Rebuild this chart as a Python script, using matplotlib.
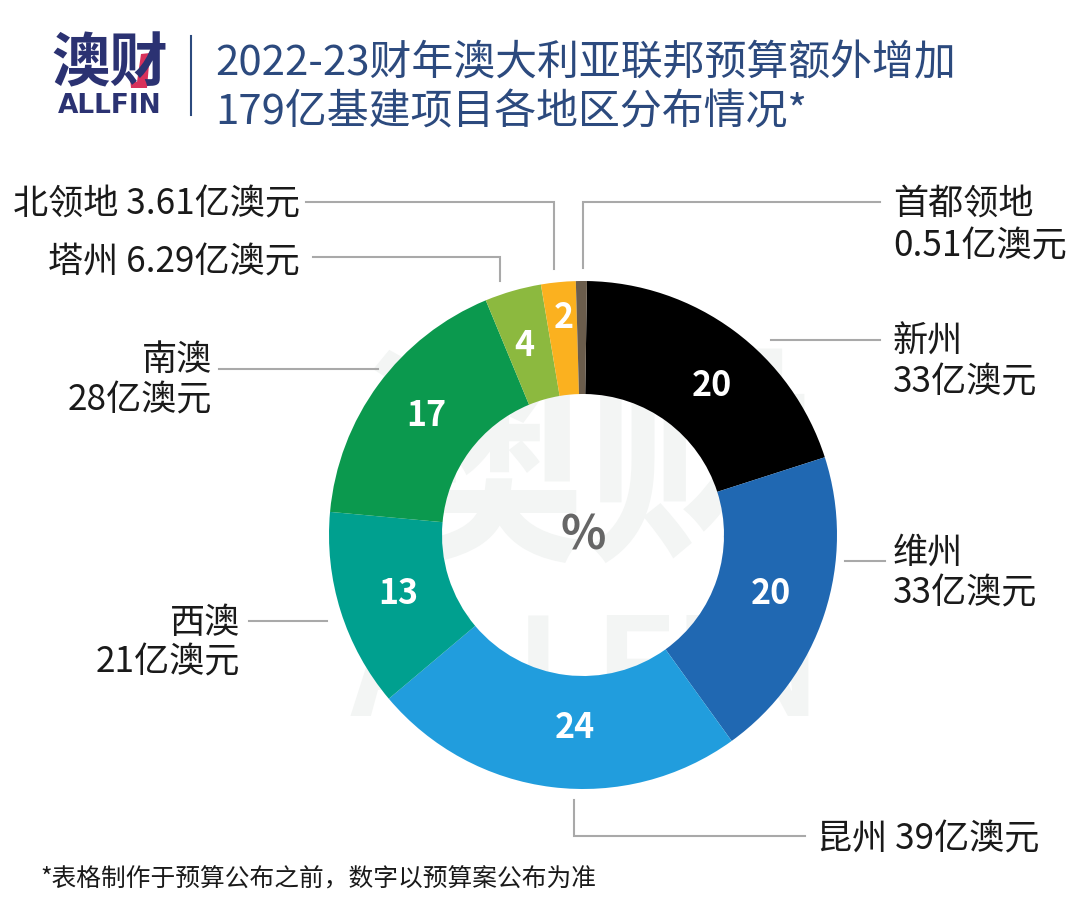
#!/usr/bin/env python3
import matplotlib
matplotlib.use("Agg")
import matplotlib.pyplot as plt
from matplotlib.patches import Polygon

plt.rcParams["font.family"] = ["Noto Sans CJK SC", "DejaVu Sans"]

W, H = 1080, 916

# share of the ring (%), clockwise from the top
regions = ["新州", "维州", "昆州", "西澳", "南澳", "塔州", "北领地", "首都领地"]
shares = [19.8, 20.0, 23.8, 12.6, 17.3, 3.6, 2.2, 0.7]
pct_labels = ["20", "20", "24", "13", "17", "4", "2", ""]
colours = ["#000000", "#2068b2", "#219ddd", "#00a08f", "#0b994e", "#8cb93f", "#fbb11f", "#6b5d4c"]

NAVY = "#2b3272"
TITLE = "#2c4a7e"
GREY = "#a9a9a9"
TEXT = "#1a1a1a"

fig = plt.figure(figsize=(W / 100, H / 100), dpi=100, facecolor="white")


def pixel_axes(zorder):
    ax = fig.add_axes([0, 0, 1, 1], zorder=zorder)
    ax.set_xlim(0, W)
    ax.set_ylim(H, 0)
    ax.axis("off")
    ax.patch.set_alpha(0)
    return ax


bg = pixel_axes(0)
fg = pixel_axes(2)

# ── Watermark ──────────────────────────────────────────────────────────────
bg.text(585, 476, "澳财", fontsize=165, fontweight="bold", color="#f3f5f4", ha="center", va="center")
bg.text(586, 676, "ALLFIN", fontsize=98, fontweight="bold", color="#f3f5f4", ha="center", va="center")

# ── Donut ──────────────────────────────────────────────────────────────────
cx, cy, r = 583, 535, 254
pie_ax = fig.add_axes([(cx - r) / W, 1 - (cy + r) / H, 2 * r / W, 2 * r / H], zorder=1)
pie_ax.patch.set_alpha(0)
pie_ax.pie(shares, colors=colours, startangle=89.1, counterclock=False,
           radius=1, wedgeprops=dict(width=1 - 141 / 254, linewidth=0))
pie_ax.set_xlim(-1, 1)
pie_ax.set_ylim(-1, 1)

for lab, x, y in zip(pct_labels,
                     [712, 771, 575, 398, 426, 524, 564, 0],
                     [386, 593, 728, 593, 416, 345, 318, 0]):
    if lab:
        fg.text(x, y, lab, color="white", fontsize=24.5, fontweight="bold", ha="center", va="center")
fg.text(583, 536, "%", color="#666666", fontsize=34, fontweight="bold", ha="center", va="center")

# ── Header ─────────────────────────────────────────────────────────────────
fg.text(110, 64, "澳财", color=NAVY, fontsize=42, fontweight="black", ha="center", va="center")
fg.add_patch(Polygon([(141, 54), (150, 53), (147, 88), (131, 88), (130, 78), (137, 82)], color="#d8315b", lw=0))
fg.text(110, 106, "ALLFIN", color=NAVY, fontsize=19, fontweight="bold", ha="center", va="center",
        family="DejaVu Sans")
fg.plot([191, 191], [36, 115], color=TITLE, lw=1.5)
fg.text(215, 64, "2022-23财年澳大利亚联邦预算额外增加", color=TITLE, fontsize=30.2, ha="left", va="center")
fg.text(215, 113, "179亿基建项目各地区分布情况*", color=TITLE, fontsize=30.2, ha="left", va="center")

# ── Callouts ───────────────────────────────────────────────────────────────
leaders = [
    ([306, 554, 554], [202, 202, 269]),
    ([313, 500, 500], [257, 257, 281]),
    ([880, 583, 583], [202, 202, 268]),
    ([771, 880], [340, 340]),
    ([845, 885], [561, 561]),
    ([219, 378], [369, 369]),
    ([249, 327], [621, 621]),
    ([574, 574, 805], [800, 836, 836]),
]
for xs, ys in leaders:
    fg.plot(xs, ys, color=GREY, lw=1.5, solid_joinstyle="miter")

callouts = [
    (300, 204, "北领地 3.61亿澳元", "right"),
    (300, 262, "塔州 6.29亿澳元", "right"),
    (212, 360, "南澳", "right"),
    (212, 400, "28亿澳元", "right"),
    (240, 623, "西澳", "right"),
    (240, 662, "21亿澳元", "right"),
    (893, 204, "首都领地", "left"),
    (893, 246, "0.51亿澳元", "left"),
    (893, 342, "新州", "left"),
    (893, 382, "33亿澳元", "left"),
    (893, 553, "维州", "left"),
    (893, 593, "33亿澳元", "left"),
    (817, 839, "昆州 39亿澳元", "left"),
]
for x, y, s, ha in callouts:
    fg.text(x, y, s, color=TEXT, fontsize=25.3, ha=ha, va="center")

fg.text(40, 879, "*表格制作于预算公布之前，数字以预算案公布为准", color=TEXT, fontsize=17.8, ha="left", va="center")

fig.savefig("out.png", dpi=100)
